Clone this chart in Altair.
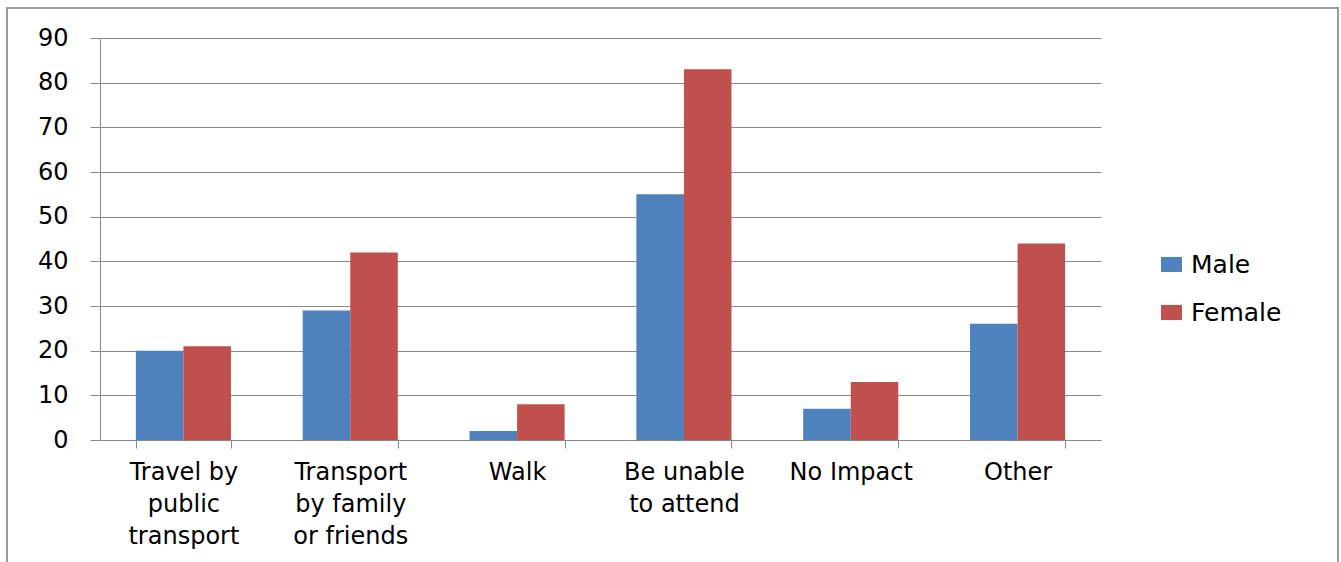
import json
import altair as alt
import pandas as pd

# Categories and counts by gender
categories = [
    "Travel by public transport",
    "Transport by family or friends",
    "Walk",
    "Be unable to attend",
    "No Impact",
    "Other",
]
category_lines = [
    ["Travel by", "public", "transport"],
    ["Transport", "by family", "or friends"],
    ["Walk"],
    ["Be unable", "to attend"],
    ["No Impact"],
    ["Other"],
]
series = ["Male", "Female"]
male = [20, 29, 2, 55, 7, 26]
female = [21, 42, 8, 83, 13, 44]
y_ticks = [0, 10, 20, 30, 40, 50, 60, 70, 80, 90]

colors = ["#4F81BD", "#C0504D"]
grid_gray = "#8a8a8a"
font = "DejaVu Sans"

rows = []
for cat, m, f in zip(categories, male, female):
    rows.append({"category": cat, "series": "Male", "value": m})
    rows.append({"category": cat, "series": "Female", "value": f})
df = pd.DataFrame(rows)

wrap = {c: lines for c, lines in zip(categories, category_lines)}
label_expr = f"{json.dumps(wrap)}[datum.label]"

bars = (
    alt.Chart(df)
    .mark_bar()
    .encode(
        x=alt.X(
            "category:N",
            sort=categories,
            scale=alt.Scale(paddingInner=0.43, paddingOuter=0.215),
            axis=alt.Axis(
                title=None,
                labelAngle=0,
                labelExpr=label_expr,
                tickBand="extent",
                tickSize=8,
                tickColor=grid_gray,
                domainColor=grid_gray,
                labelFont=font,
                labelFontSize=24,
                labelColor="#000000",
                labelPadding=12,
                labelLineHeight=32,
                labelBaseline="top",
            ),
        ),
        xOffset=alt.XOffset("series:N", sort=series, scale=alt.Scale(paddingInner=0, paddingOuter=0)),
        y=alt.Y(
            "value:Q",
            scale=alt.Scale(domain=[0, 90], nice=False),
            axis=alt.Axis(
                title=None,
                values=y_ticks,
                grid=True,
                gridColor=grid_gray,
                gridWidth=1,
                tickSize=10,
                tickColor=grid_gray,
                domainColor=grid_gray,
                labelFont=font,
                labelFontSize=24,
                labelColor="#000000",
                labelPadding=22,
            ),
        ),
        color=alt.Color(
            "series:N",
            sort=series,
            scale=alt.Scale(domain=series, range=colors),
            legend=alt.Legend(
                title=None,
                orient="none",
                legendX=1059,
                legendY=214,
                symbolType="M-1,-0.72H1V0.72H-1Z",
                symbolSize=440,
                symbolStrokeWidth=0,
                labelFont=font,
                labelFontSize=25,
                labelColor="#000000",
                labelOffset=7,
                rowPadding=22,
            ),
        ),
    )
)

# Light gray frame around the whole chart
frame = (
    alt.Chart(pd.DataFrame({"k": [0]}))
    .mark_rect(fill="white", fillOpacity=0, stroke="#9a9a9a", strokeWidth=2)
    .encode(
        x=alt.value(-93),
        x2=alt.value(1238),
        y=alt.value(-30),
        y2=alt.value(700),
    )
)

chart = (
    alt.layer(frame, bars)
    .properties(
        width=1001,
        height=402,
        autosize=alt.AutoSizeParams(type="none"),
        padding={"left": 100, "top": 38, "right": 240, "bottom": 122},
        background="white",
    )
    .configure_view(strokeWidth=0)
)

chart.save("out.html", embed_options={"renderer": "svg", "actions": False})
